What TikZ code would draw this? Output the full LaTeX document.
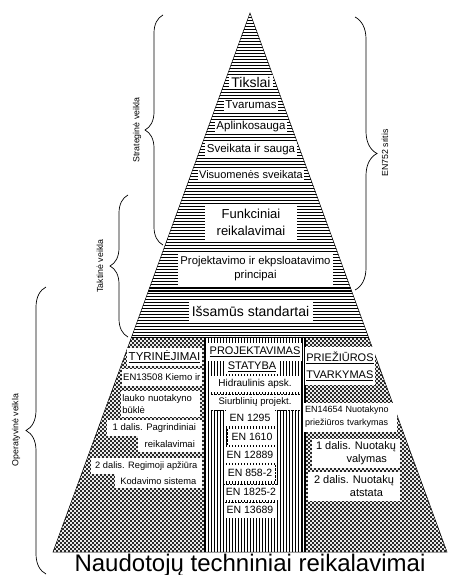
\documentclass[tikz,border=0pt]{standalone}
\usepackage{fontspec}
\setmainfont{Liberation Sans}
\usetikzlibrary{decorations.pathreplacing}
\newcommand\fsz[2]{\fontsize{#1}{#2}\selectfont}
\begin{document}
\begin{tikzpicture}[x=1pt,y=-1pt,
  wb/.style={fill=white, inner sep=1.5pt},
  brc/.style={decorate, decoration={brace, amplitude=#1}, line width=0.7pt},
  blab/.style={rotate=90, font={\fsz{8.8}{10}}},
  enb/.style={wb, font={\fsz{10.5}{12}}, minimum width=49pt, minimum height=16pt}
]
\useasboundingbox (0,0) rectangle (450,575);
% pyramid
\coordinate (A) at (250,13);
\coordinate (BL) at (53,552);
\coordinate (BR) at (447,552);
\begin{scope}
\clip (A) -- (BR) -- (BL) -- cycle;
\foreach \y in {14.5,17.5,...,336} \draw[line width=1.1pt] (0,\y) -- (450,\y);
\foreach \i in {-165,-161,...,665} {
  \draw[line width=0.6pt] (\i,337) -- (\i+215,552);
  \draw[line width=0.6pt] (\i,337) -- (\i-215,552);
}
\fill[white] (204,337) rectangle (305,552);
\foreach \x in {205.5,208.5,...,305} \draw[line width=1.4pt] (\x,337) -- (\x,552);
\draw[line width=1pt] (0,191.5) -- (450,191.5) (0,194.5) -- (450,194.5) (0,197.5) -- (450,197.5);
\draw[line width=1.6pt] (0,288) -- (450,288) (0,291.5) -- (450,291.5);
\draw[line width=0.8pt] (0,337) -- (450,337);
\draw[line width=0.7pt] (204,337) -- (204,552) (302.5,337) -- (302.5,552) (305,337) -- (305,552);
\end{scope}
\draw[line width=0.5pt] (A) -- (BR) -- (BL) -- cycle;

% braces
\coordinate (s1) at (163,245); \coordinate (s2) at (163,15);
\draw[brc=18pt] (s1) -- (s2);
\coordinate (t1) at (128,337); \coordinate (t2) at (128,195);
\draw[brc=18pt] (t1) -- (t2);
\coordinate (o1) at (46,574); \coordinate (o2) at (46,287);
\draw[brc=20pt] (o1) -- (o2);
\coordinate (e1) at (355,17); \coordinate (e2) at (355,290);
\draw[brc=22pt] (e1) -- (e2);
\node[blab] (str) at (137,130) {Strateginė veikla};
\node[blab] (tak) at (100,266) {Taktinė veikla};
\node[blab] (ope) at (16,430) {Operatyvinė veikla};
\node[blab] (en752) at (385,153) {EN752 sritis};

% upper labels
\node[wb, font={\fsz{14}{16}}, inner xsep=2pt] (tik) at (251,82) {Tikslai};
\node[wb, font={\fsz{11.5}{13}}] (tva) at (251,105) {Tvarumas};
\node[wb, font={\fsz{11.5}{13}}] (apl) at (251,127) {Aplinkosauga};
\node[wb, font={\fsz{11.5}{13}}] (sve) at (251,150) {Sveikata ir sauga};
\node[wb, font={\fsz{11}{13}}] (vis) at (251,175) {Visuomenės sveikata};
\node[wb, font={\fsz{13}{17}}, align=center, minimum width=92pt, minimum height=37pt] (fun) at (251,222) {Funkciniai\\reikalavimai};
\node[wb, font={\fsz{11.3}{13.5}}, align=center, minimum width=155pt, minimum height=32pt] (pro) at (255.5,268.5) {Projektavimo ir ekpsloatavimo\\principai};
\node[wb, font={\fsz{14}{16}}, minimum width=124pt, minimum height=23pt] (iss) at (250.5,311) {Išsamūs standartai};

% left column
\node[wb, font={\fsz{11.5}{13}}, anchor=east, minimum width=74pt, minimum height=18pt] (tyr) at (202,357) {\underline{TYRINĖJIMAI}};
\node[wb, font={\fsz{9.5}{11}}, anchor=east, minimum width=80pt, minimum height=17pt] (e13508) at (202,377) {EN13508 Kiemo ir};
\node[wb, font={\fsz{9.5}{11.5}}, anchor=east, align=left, text width=76pt, minimum height=26pt] (lau) at (200,404) {lauko nuotakyno\\būklė};
\node[wb, font={\fsz{9.5}{11}}, anchor=east, minimum width=95pt, minimum height=16pt] (d1) at (202,428) {1 dalis. Pagrindiniai};
\node[wb, font={\fsz{9.5}{11}}, anchor=east, minimum width=64pt, minimum height=16pt] (reik) at (202,444) {reikalavimai};
\node[wb, font={\fsz{9.3}{11}}, anchor=east, minimum width=111pt, minimum height=16pt] (d2) at (202,466) {2 dalis. Regimoji apžiūra};
\node[wb, font={\fsz{9.3}{11}}, anchor=east, minimum width=87pt, minimum height=14pt] (kod) at (202,481) {Kodavimo sistema};

% middle column
\node[wb, font={\fsz{11}{13}}, minimum width=90pt, minimum height=18pt] (proj) at (255,352) {\underline{PROJEKTAVIMAS}};
\node[wb, font={\fsz{11}{13}}, minimum width=52pt, minimum height=14pt] (stat) at (252,367) {\underline{STATYBA}};
\node[wb, font={\fsz{10}{12}}, minimum width=88pt, minimum height=16pt] (hidr) at (255,384) {Hidraulinis apsk.};
\node[wb, font={\fsz{9.5}{11}}, minimum width=88pt, minimum height=16pt] (siur) at (255,402) {Siurblinių projekt.};
\draw[densely dotted] (siur.north west) -- (siur.north east) (siur.south west) -- (siur.south east);
\node[enb] (n1295) at (250,418) {EN 1295};
\node[enb] (n1610) at (252,437) {EN 1610};
\draw[densely dotted] (n1610.north west) -- (n1610.south west);
\node[enb] (n12889) at (250,455) {EN 12889};
\node[enb] (n858) at (250,473) {EN 858-2};
\draw[densely dotted] (n858.north east) -- (n858.south east);
\node[enb] (n1825) at (251,492) {EN 1825-2};
\draw[densely dotted] (n1825.north west) -- (n1825.north east);
\node[enb] (n13689) at (250,510) {EN 13689};
\draw[densely dotted] (n13689.north west) -- (n13689.north east);

% right column
\node[wb, font={\fsz{11}{17}}, align=left, minimum width=67pt, minimum height=38pt] (prie) at (340,366) {\underline{PRIEŽIŪROS}\\\underline{TVARKYMAS}};
\node[wb, font={\fsz{9}{13}}, align=left, text width=90pt, minimum height=29pt] (e14654) at (350,417) {EN14654 Nuotakyno\\priežiūros tvarkymas};
\node[wb, font={\fsz{11}{13}}, align=right, minimum width=88pt, minimum height=29pt] (val) at (356,453) {1 dalis. Nuotakų\\valymas\hspace*{9pt}};
\node[wb, font={\fsz{11}{13}}, align=right, minimum width=92pt, minimum height=29pt] (ats) at (354,486) {2 dalis. Nuotakų\\atstata\hspace*{11pt}};

% base label
\node[font={\fsz{24}{26}}, anchor=base, inner sep=0pt] (nau) at (250,571) {Naudotojų techniniai reikalavimai};
\end{tikzpicture}
\end{document}
